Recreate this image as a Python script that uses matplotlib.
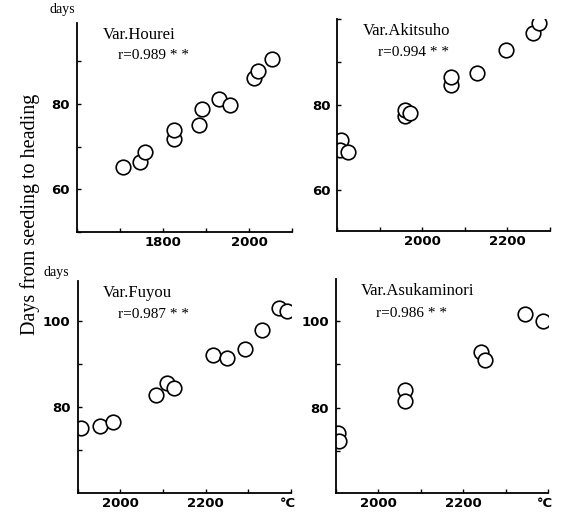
import matplotlib.pyplot as plt
from matplotlib.ticker import MultipleLocator

# accumulated temperature (deg C) and days from seeding to heading
hourei_t = [1708, 1747, 1757, 1826, 1826, 1884, 1890, 1930, 1956, 2012, 2021, 2053]
hourei_d = [65.2, 66.3, 68.8, 71.9, 73.9, 75.1, 78.7, 81.2, 79.8, 86.0, 87.8, 90.6]

akitsuho_t = [1808, 1806, 1824, 1959, 1959, 1971, 2067, 2067, 2129, 2198, 2261, 2274]
akitsuho_d = [71.8, 69.5, 68.9, 77.4, 78.8, 78.1, 84.7, 86.5, 87.4, 92.7, 96.7, 99.1]

fuyou_t = [1907, 1952, 1982, 2084, 2110, 2127, 2218, 2251, 2292, 2332, 2372, 2391]
fuyou_d = [75.1, 75.7, 76.5, 82.7, 85.6, 84.4, 92.0, 91.4, 93.5, 97.8, 103.0, 102.2]

asuka_t = [1906, 1908, 2064, 2064, 2241, 2252, 2346, 2387]
asuka_d = [74.2, 72.4, 84.1, 81.4, 92.9, 91.0, 101.5, 100.0]

names = ["Var.Hourei", "Var.Akitsuho", "Var.Fuyou", "Var.Asukaminori"]
r_text = ["r=0.989 * *", "r=0.994 * *", "r=0.987 * *", "r=0.986 * *"]

fig = plt.figure(figsize=(5.66, 5.19), dpi=100)

panels = [
    # position, data, xlim, ylim
    ([0.136, 0.553, 0.380, 0.403], hourei_t, hourei_d, (1600, 2100), (50, 99)),
    ([0.596, 0.555, 0.375, 0.408], akitsuho_t, akitsuho_d, (1800, 2300), (50.5, 100)),
    ([0.137, 0.051, 0.377, 0.408], fuyou_t, fuyou_d, (1900, 2400), (60.2, 109.3)),
    ([0.593, 0.051, 0.376, 0.411], asuka_t, asuka_d, (1900, 2400), (60.4, 109.6)),
]

tick_font = {"family": "Liberation Sans Narrow", "weight": "bold", "size": 9.5}
serif = "Liberation Serif"

for i, (pos, t, d, xl, yl) in enumerate(panels):
    ax = fig.add_axes(pos)
    ax.plot(t, d, "o", markersize=10.5, markerfacecolor="white",
            markeredgecolor="black", markeredgewidth=1.2, linestyle="none")
    ax.set_xlim(xl)
    ax.set_ylim(yl)
    for s in ["top", "right"]:
        ax.spines[s].set_visible(False)
    ax.spines["left"].set_linewidth(1.3)
    ax.spines["bottom"].set_linewidth(1.3)
    ax.xaxis.set_minor_locator(MultipleLocator(100))
    ax.yaxis.set_minor_locator(MultipleLocator(10))
    ax.tick_params(which="both", direction="in", length=3, width=1)
    ax.tick_params(axis="y", pad=5)
    ax.tick_params(axis="x", pad=3)
    xt = [v for v in range(1600, 2600, 200) if xl[0] < v < xl[1]]
    ax.set_xticks(xt)
    ax.set_xticklabels([str(v) for v in xt], fontdict=tick_font)
    yt = [v for v in range(40, 120, 20) if yl[0] < v < yl[1]]
    ax.set_yticks(yt)
    ax.set_yticklabels([str(v) for v in yt], fontdict=tick_font)
    ax.text(0.12, 0.925, names[i], transform=ax.transAxes, family=serif, size=12)
    ax.text(0.19, 0.825, r_text[i], transform=ax.transAxes, family=serif, size=11)
    if i >= 2:
        ax.text(0.985, -0.05, "\u00b0C", transform=ax.transAxes, ha="center",
                va="center", fontdict=tick_font)

fig.text(0.088, 0.975, "days", family=serif, size=10)
fig.text(0.076, 0.468, "days", family=serif, size=10)
fig.text(0.053, 0.586, "Days from seeding to heading", rotation=90,
         ha="center", va="center", family=serif, size=14.5)

plt.savefig("out.png", dpi=100)
